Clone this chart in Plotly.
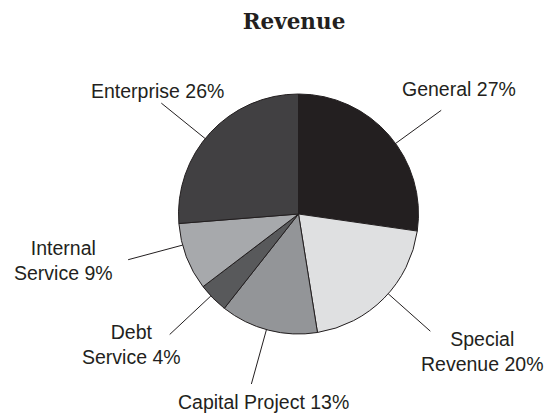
import math
import plotly.graph_objects as go

# fund shares of revenue, clockwise from 12 o'clock
funds = ["General", "Special Revenue", "Capital Project", "Debt Service", "Internal Service", "Enterprise"]
shares = [27, 20, 13, 4, 9, 26]
label_lines = [["General"], ["Special", "Revenue"], ["Capital Project"], ["Debt", "Service"],
               ["Internal", "Service"], ["Enterprise"]]

colors = ["#231f20", "#dfe0e1", "#939598", "#58595b", "#a7a9ac", "#414042"]
# where the leader leaves each slice (fraction of slice) and label offset from leader end (px)
leader_pos = [0.55, 0.46, 0.52, 0.6, 0.68, 0.46]
label_off = [(18, -21), (52, 20), (12, 18), (-38, 10), (-65, 1), (-4, -12)]

W, H = 556, 415
CX, CY, R = 298.5, 214, 120
R_OUT = 1.47 * R
ink = "#231f20"

fig = go.Figure(go.Pie(
    values=shares, labels=funds, sort=False, direction="clockwise", rotation=0,
    textinfo="none", hoverinfo="label+percent", showlegend=False,
    marker=dict(colors=colors, line=dict(color=ink, width=1)),
    domain=dict(x=[(CX - R) / W, (CX + R) / W], y=[1 - (CY + R) / H, 1 - (CY - R) / H]),
))

total = sum(shares)
cum = 0
for share, lines, pos, (dx, dy) in zip(shares, label_lines, leader_pos, label_off):
    a = math.radians(360 * (cum + pos * share) / total)
    cum += share
    sx, sy = CX + R * math.sin(a), CY - R * math.cos(a)
    ex, ey = CX + R_OUT * math.sin(a), CY - R_OUT * math.cos(a)
    fig.add_shape(type="line", xref="paper", yref="paper",
                  x0=sx / W, y0=1 - sy / H, x1=ex / W, y1=1 - ey / H,
                  line=dict(color=ink, width=1))
    fig.add_annotation(text="<br>".join(lines) + f" {share}%", xref="paper", yref="paper",
                       x=(ex + dx) / W, y=1 - (ey + dy) / H, xanchor="center", yanchor="middle",
                       showarrow=False, align="center",
                       font=dict(family="Liberation Sans, Arial", size=19.5, color=ink))

fig.update_layout(
    width=W, height=H, margin=dict(l=0, r=0, t=0, b=0),
    paper_bgcolor="white", plot_bgcolor="white",
    title=dict(text="<b>Revenue</b>", x=294 / W, xanchor="center", y=1 - 21 / H, yanchor="middle",
               font=dict(family="DejaVu Serif", size=21.5, color=ink)),
)

fig.write_html("out.html", config={"displayModeBar": False},
               post_script="document.body.style.margin='0';")
